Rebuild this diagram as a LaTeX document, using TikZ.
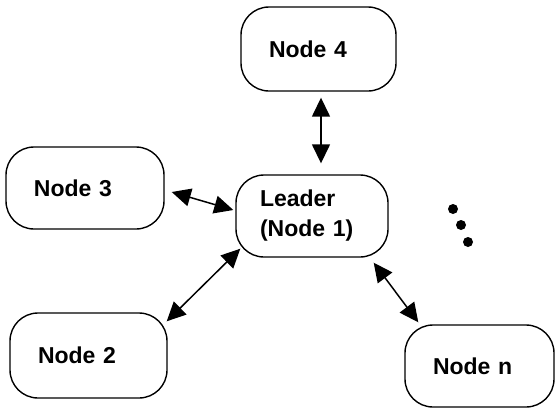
\documentclass[tikz,border=0pt]{standalone}
\usepackage{fontspec}
\setmainfont{Liberation Sans}
\usetikzlibrary{arrows.meta,calc}

\tikzset{
  peer/.style={draw, line width=1.4pt, rounded corners=28pt, align=left,
    inner xsep=28pt, inner ysep=0pt, font=\fontsize{23}{30}\selectfont\bfseries},
  link/.style={line width=1.5pt, {Triangle[length=19pt,width=18pt]}-{Triangle[length=19pt,width=18pt]}},
  dot/.style={fill=black, draw=none}
}

\begin{document}
\begin{tikzpicture}[x=1pt, y=-1pt]
  \useasboundingbox (0,0) rectangle (555,408);

  \node[peer, text width=99pt, minimum height=84pt] (n4) at (318.5,49) {Node 4};
  \node[peer, text width=102pt, minimum height=82pt] (n3) at (85,188) {Node 3};
  \node[peer, text width=104pt, minimum height=82pt, inner xsep=24pt] (lead) at (312,216) {Leader\\(Node 1)};
  \node[peer, text width=101pt, minimum height=85pt] (n2) at (88.5,355.5) {Node 2};
  \node[peer, text width=93pt, minimum height=82pt] (nn) at (479.5,366) {Node n};

  \draw[link] ($(n4.south)+(2.5,6)$) -- ($(lead.north)+(9,-11)$);
  \draw[link] ($(n3.east)+(7,4)$) -- ($(lead.west)+(-2,-6)$);
  \draw[link] ($(n2.north east)+(-1,9)$) -- ($(lead.south west)+(5,-9)$);
  \draw[link] ($(lead.south east)+(-15,5)$) -- ($(nn.north west)+(14,-2)$);

  \fill[dot] (453,209) circle (5pt);
  \fill[dot] (461,225) circle (5pt);
  \fill[dot] (468,242) circle (5pt);
\end{tikzpicture}
\end{document}
